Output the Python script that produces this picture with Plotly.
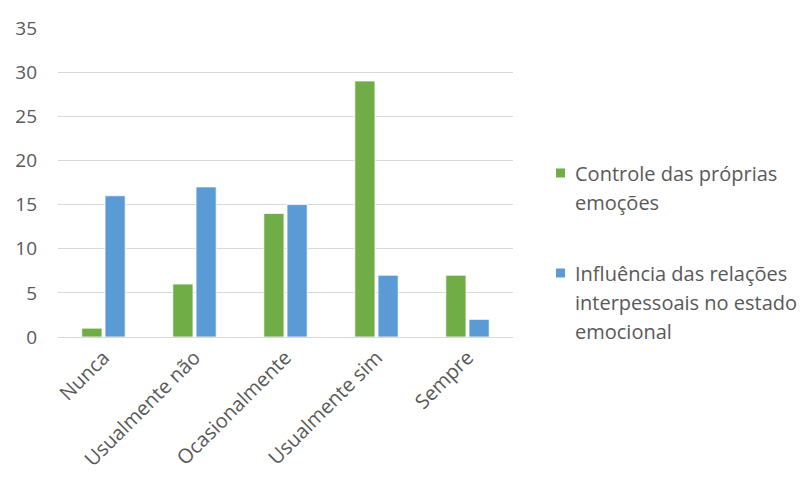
import plotly.graph_objects as go

categorias = ["Nunca", "Usualmente não", "Ocasionalmente", "Usualmente sim", "Sempre"]
controle = [1, 6, 14, 29, 7]
influencia = [16, 17, 15, 7, 2]
legenda_controle = ["Controle das próprias", "emoções"]
legenda_influencia = ["Influência das relações", "interpessoais no estado", "emocional"]

verde = "#70AD47"
azul = "#5B9BD5"
texto = "#595959"
fonte = "Open Sans"
tam_y = 19
tam_x = 20
tam_leg = 20

# plot area in pixels (used to place the hand-drawn legend in paper space)
L, R, T, B = 58, 293, 28, 143
W, H = 806, 480
pw, ph = W - L - R, H - T - B


def px_x(x):
    return (x - L) / pw


def px_y(y):
    return (H - B - y) / ph


fig = go.Figure()
fig.add_trace(go.Bar(
    x=categorias, y=controle, name=" ".join(legenda_controle),
    marker=dict(color=verde, line=dict(color="#ffffff", width=0.8)),
    showlegend=False,
))
fig.add_trace(go.Bar(
    x=categorias, y=influencia, name=" ".join(legenda_influencia),
    marker=dict(color=azul, line=dict(color="#ffffff", width=0.8)),
    showlegend=False,
))

# legend: a colour square followed by wrapped label lines
shapes = []
annotations = []
itens = [(verde, legenda_controle, 173), (azul, legenda_influencia, 273)]
passo = 29
for cor, linhas, y0 in itens:
    shapes.append(dict(
        type="rect", xref="paper", yref="paper",
        x0=px_x(556), x1=px_x(565), y0=px_y(y0 + 4.5), y1=px_y(y0 - 4.5),
        fillcolor=cor, line=dict(width=0),
    ))
    for i, linha in enumerate(linhas):
        annotations.append(dict(
            xref="paper", yref="paper", x=px_x(573), y=px_y(y0 + i * passo),
            xanchor="left", yanchor="middle", showarrow=False, text=linha,
            font=dict(family=fonte, size=tam_leg, color=texto),
        ))

fig.update_layout(
    width=W, height=H,
    margin=dict(l=L, r=R, t=T, b=B),
    paper_bgcolor="white", plot_bgcolor="white",
    barmode="group", bargap=0.49, bargroupgap=0.13,
    font=dict(family=fonte, size=tam_y, color=texto),
    showlegend=False,
    shapes=shapes,
    annotations=annotations,
    xaxis=dict(
        tickangle=-45, showgrid=False, showline=True, automargin=False,
        linecolor="#d9d9d9", linewidth=1, ticks="",
        tickfont=dict(family=fonte, size=tam_x, color=texto),
    ),
    yaxis=dict(
        range=[0, 35], dtick=5, showgrid=True, gridcolor="#d9d9d9",
        gridwidth=1, zeroline=False, showline=False, ticks="", automargin=False,
        ticklabelstandoff=20,
        tickfont=dict(family=fonte, size=tam_y, color=texto),
    ),
)

fig.write_html("out.html")
